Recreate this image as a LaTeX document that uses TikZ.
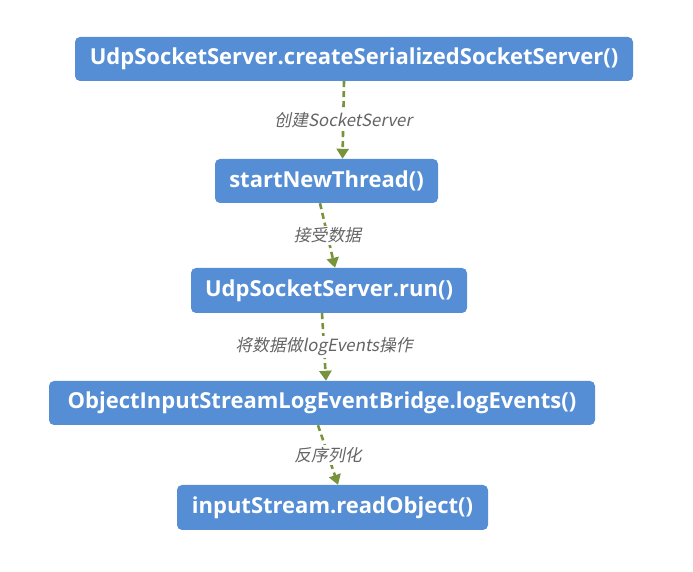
\documentclass[tikz,border=0pt]{standalone}
\usepackage{fontspec}
\usetikzlibrary{arrows.meta}
\newfontfamily\boxfont{Open Sans}[UprightFont=* Bold]
\newfontfamily\lblfont{Noto Sans CJK SC}[FakeSlant=0.2]
\definecolor{boxblue}{RGB}{85,142,213}
\definecolor{arrgreen}{RGB}{119,147,60}
\definecolor{lblgray}{RGB}{100,100,100}
\tikzset{
  stepbox/.style={draw=none, fill=boxblue, rounded corners=5pt, minimum height=44pt,
    inner sep=0pt, text=white, font=\boxfont\fontsize{22}{26}\selectfont},
  flow/.style={draw=arrgreen, line width=2.6pt, dash pattern=on 6pt off 4pt,
    -{Triangle[width=12pt,length=10pt,fill=arrgreen]}},
  lbl/.style={fill=white, inner sep=2pt, text=lblgray, font=\lblfont\fontsize{16.8}{20}\selectfont}
}
\begin{document}
\begin{tikzpicture}[x=1pt,y=1pt]
\useasboundingbox (0,0) rectangle (693,572);
\node[stepbox, minimum width=558pt] (b1) at (354,513) {UdpSocketServer.createSerializedSocketServer()};
\node[stepbox, minimum width=223pt] (b2) at (326.5,391) {startNewThread()};
\node[stepbox, minimum width=276pt, minimum height=45pt] (b3) at (329,281.5) {UdpSocketServer.run()};
\node[stepbox, minimum width=546pt] (b4) at (322,169) {ObjectInputStreamLogEventBridge.logEvents()};
\node[stepbox, minimum width=311pt, minimum height=45pt] (b5) at (332.5,64.5) {inputStream.readObject()};
\draw[flow] ([xshift=-10pt]b1.south) -- node[lbl] {创建SocketServer} ([xshift=16pt]b2.north);
\draw[flow] ([xshift=-6.5pt]b2.south) -- node[lbl] {接受数据} ([xshift=6pt]b3.north);
\draw[flow] ([xshift=-7pt]b3.south) -- node[lbl] {将数据做logEvents操作} ([xshift=4pt]b4.north);
\draw[flow] ([xshift=-4pt]b4.south) -- node[lbl] {反序列化} ([xshift=5.5pt]b5.north);
\end{tikzpicture}
\end{document}
